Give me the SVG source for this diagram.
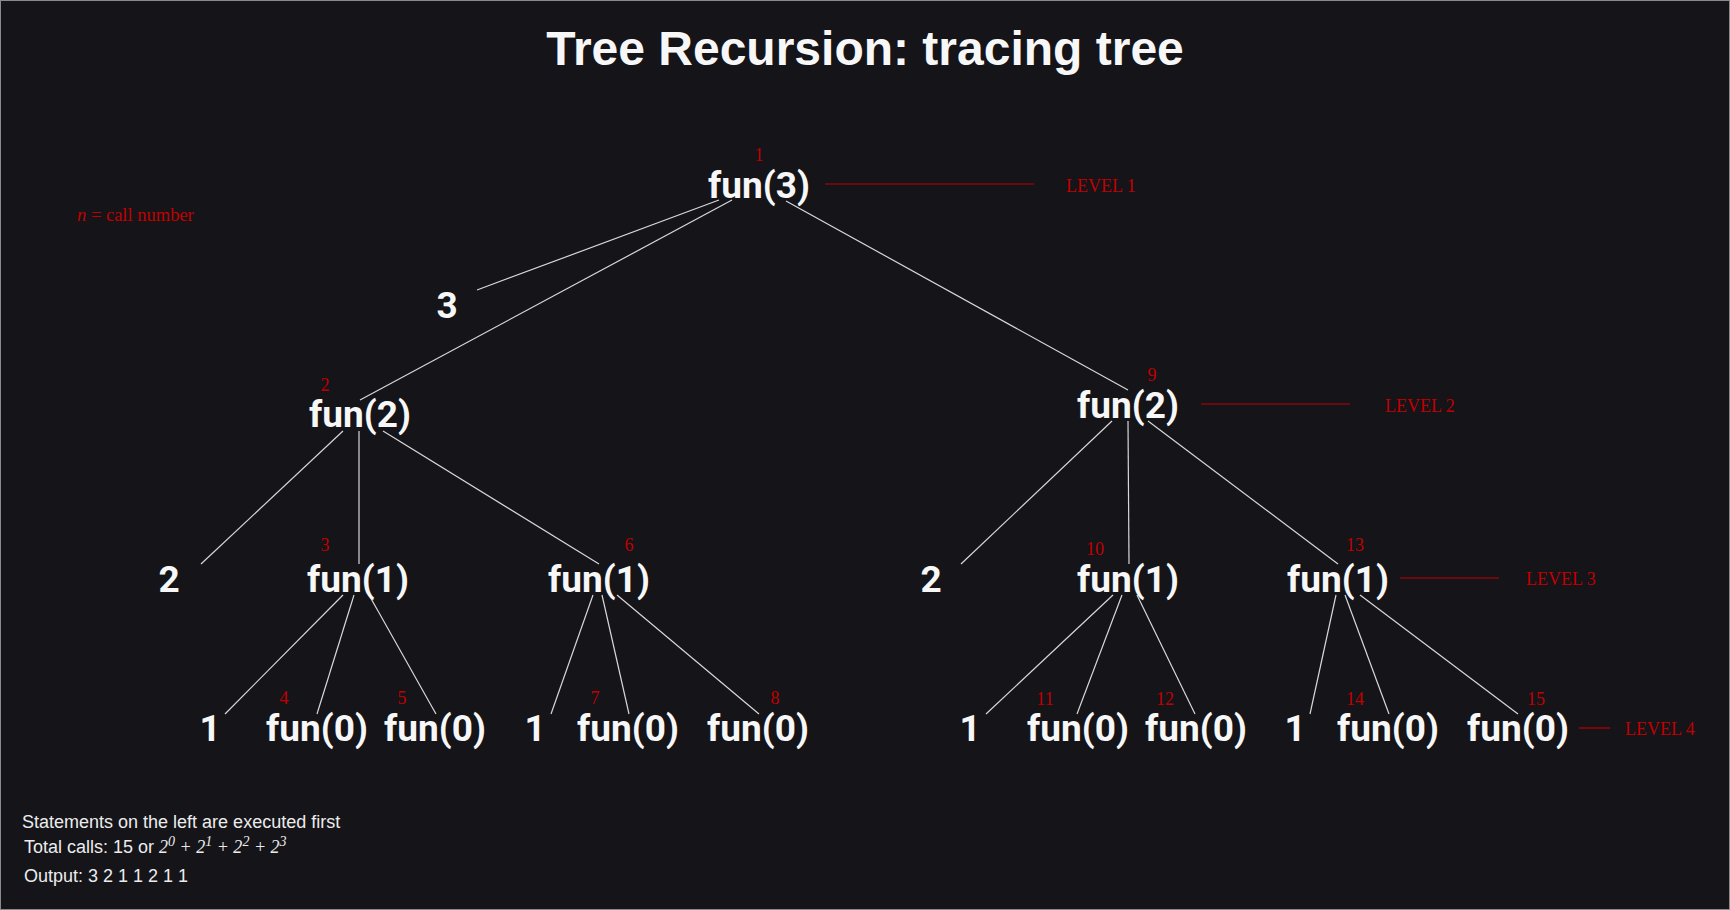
<svg xmlns="http://www.w3.org/2000/svg" width="1730" height="910" viewBox="0 0 1730 910">
<style>
.node{font-family:Roboto,"Liberation Sans",sans-serif;font-weight:bold;font-size:37px;fill:#f7f7f7;text-anchor:middle}
.num{font-family:"Liberation Serif",serif;font-size:18px;fill:#c00000;text-anchor:middle}
.lvl{font-family:"Liberation Serif",serif;font-size:18px;fill:#c00000}
.edge{stroke:#d8d8d8;stroke-width:1.2;fill:none}
.lvline{stroke:#c00000;stroke-width:1.2}
.note{font-family:"Liberation Sans",sans-serif;font-size:18px;fill:#ececec}
.math{font-family:"Liberation Serif",serif;font-style:italic}
</style>
<rect x="0.5" y="0.5" width="1729" height="909" fill="#141419" stroke="#8a8a8a" stroke-width="1"/>
<text x="865" y="65" font-family="Liberation Sans,sans-serif" font-weight="bold" font-size="48" fill="#f7f7f7" text-anchor="middle">Tree Recursion: tracing tree</text>
<text x="77" y="221" font-family="Liberation Serif,serif" font-size="18.5" fill="#c00000"><tspan font-style="italic">n</tspan> = call number</text>

<g id="connectors">
<line class="edge" x1="719" y1="200" x2="477" y2="290"/>
<line class="edge" x1="732" y1="200" x2="360" y2="400"/>
<line class="edge" x1="786" y1="201" x2="1128" y2="390"/>
<line class="edge" x1="343" y1="431" x2="201" y2="564"/>
<line class="edge" x1="359" y1="431" x2="359" y2="564"/>
<line class="edge" x1="383" y1="431" x2="599" y2="564"/>
<line class="edge" x1="1112" y1="421" x2="961" y2="564"/>
<line class="edge" x1="1128" y1="421" x2="1129" y2="564"/>
<line class="edge" x1="1148" y1="421" x2="1338" y2="564"/>
<line class="edge" x1="343" y1="595" x2="225" y2="714"/>
<line class="edge" x1="354" y1="595" x2="317" y2="714"/>
<line class="edge" x1="369" y1="595" x2="436" y2="714"/>
<line class="edge" x1="593" y1="595" x2="551" y2="714"/>
<line class="edge" x1="602" y1="595" x2="629" y2="714"/>
<line class="edge" x1="617" y1="595" x2="759" y2="714"/>
<line class="edge" x1="1113" y1="595" x2="986" y2="714"/>
<line class="edge" x1="1122" y1="595" x2="1077" y2="714"/>
<line class="edge" x1="1137" y1="595" x2="1195" y2="714"/>
<line class="edge" x1="1336" y1="595" x2="1310" y2="714"/>
<line class="edge" x1="1345" y1="595" x2="1389" y2="714"/>
<line class="edge" x1="1360" y1="595" x2="1518" y2="714"/>
</g>

<g id="levels">
<line class="lvline" x1="825" y1="184" x2="1034" y2="184"/>
<text class="lvl" x="1066" y="192">LEVEL 1</text>
<line class="lvline" x1="1201" y1="404" x2="1350" y2="404"/>
<text class="lvl" x="1385" y="412">LEVEL 2</text>
<line class="lvline" x1="1400" y1="578" x2="1499" y2="578"/>
<text class="lvl" x="1526" y="585">LEVEL 3</text>
<line class="lvline" x1="1579" y1="728" x2="1610" y2="728"/>
<text class="lvl" x="1625" y="735">LEVEL 4</text>
</g>

<g id="call1"><text class="num" x="759" y="161">1</text><text class="node" x="759" y="198">fun(3)</text></g>
<g id="out3"><text class="node" x="447" y="318">3</text></g>
<g id="call2"><text class="num" x="325" y="391">2</text><text class="node" x="360" y="427">fun(2)</text></g>
<g id="call9"><text class="num" x="1152" y="381">9</text><text class="node" x="1128" y="418">fun(2)</text></g>
<g id="out2a"><text class="node" x="169" y="592">2</text></g>
<g id="call3"><text class="num" x="325" y="551">3</text><text class="node" x="358" y="592">fun(1)</text></g>
<g id="call6"><text class="num" x="629" y="551">6</text><text class="node" x="599" y="592">fun(1)</text></g>
<g id="out2b"><text class="node" x="931" y="592">2</text></g>
<g id="call10"><text class="num" x="1095" y="555">10</text><text class="node" x="1128" y="592">fun(1)</text></g>
<g id="call13"><text class="num" x="1355" y="551">13</text><text class="node" x="1338" y="592">fun(1)</text></g>
<g id="out1a"><text class="node" x="210" y="741">1</text></g>
<g id="call4"><text class="num" x="284" y="704">4</text><text class="node" x="317" y="741">fun(0)</text></g>
<g id="call5"><text class="num" x="402" y="704">5</text><text class="node" x="435" y="741">fun(0)</text></g>
<g id="out1b"><text class="node" x="535" y="741">1</text></g>
<g id="call7"><text class="num" x="595" y="704">7</text><text class="node" x="628" y="741">fun(0)</text></g>
<g id="call8"><text class="num" x="775" y="704">8</text><text class="node" x="758" y="741">fun(0)</text></g>
<g id="out1c"><text class="node" x="970" y="741">1</text></g>
<g id="call11"><text class="num" x="1045" y="705">11</text><text class="node" x="1078" y="741">fun(0)</text></g>
<g id="call12"><text class="num" x="1165" y="705">12</text><text class="node" x="1196" y="741">fun(0)</text></g>
<g id="out1d"><text class="node" x="1295" y="741">1</text></g>
<g id="call14"><text class="num" x="1355" y="705">14</text><text class="node" x="1388" y="741">fun(0)</text></g>
<g id="call15"><text class="num" x="1536" y="705">15</text><text class="node" x="1518" y="741">fun(0)</text></g>

<g id="notes">
<text class="note" x="22" y="828">Statements on the left are executed first</text>
<text class="note" x="24" y="853">Total calls: 15 or <tspan class="math">2</tspan><tspan class="math" font-size="14" dy="-7">0</tspan><tspan class="math" dy="7"> + 2</tspan><tspan class="math" font-size="14" dy="-7">1</tspan><tspan class="math" dy="7"> + 2</tspan><tspan class="math" font-size="14" dy="-7">2</tspan><tspan class="math" dy="7"> + 2</tspan><tspan class="math" font-size="14" dy="-7">3</tspan></text>
<text class="note" x="24" y="882">Output: 3 2 1 1 2 1 1</text>
</g>
</svg>
